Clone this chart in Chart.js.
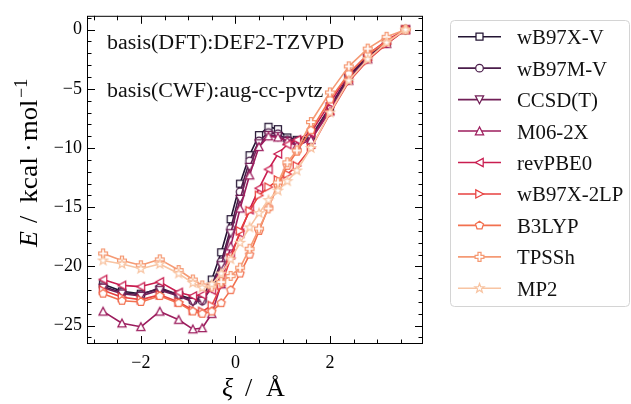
<!DOCTYPE html>
<html>
<head>
<meta charset="utf-8">
<script src="https://cdn.jsdelivr.net/npm/chart.js@4.4.1/dist/chart.umd.min.js"></script>
<style>
html,body{margin:0;padding:0;background:#ffffff;}
#wrap{width:631px;height:404px;position:relative;}
</style>
</head>
<body>
<div id="wrap"><canvas id="c" width="631" height="404"></canvas></div>
<script>
// ---- data ----
const xi = [-2.8,-2.4,-2.0,-1.6,-1.2,-0.9,-0.7,-0.5,-0.3,-0.1,0.1,0.3,0.5,0.7,0.9,1.1,1.3,1.6,2.0,2.4,2.8,3.2,3.6];

const wB97X_V   = [-21.5,-22.1,-22.3,-21.9,-22.4,-22.8,-22.7,-21.1,-18.8,-16.0,-13.0,-10.6,-8.9,-8.2,-8.4,-9.1,-9.3,-9.0,-6.6,-4.0,-2.3,-1.1,0];
const wB97M_V   = [-21.7,-22.2,-22.4,-21.8,-22.4,-22.9,-22.9,-21.6,-19.6,-16.8,-13.7,-11.1,-9.4,-8.7,-8.8,-9.3,-9.4,-9.1,-6.5,-3.9,-2.2,-1.0,0];
const CCSD_T    = [-21.8,-22.3,-22.5,-22.0,-22.5,-23.0,-22.9,-21.8,-19.9,-17.2,-14.3,-11.6,-9.6,-8.9,-9.0,-9.4,-9.6,-9.2,-6.7,-4.1,-2.4,-1.1,0];
const M06_2X    = [-23.8,-24.8,-25.1,-23.8,-24.5,-25.3,-25.2,-24.0,-21.5,-18.3,-15.1,-12.3,-9.9,-9.0,-9.1,-9.4,-9.8,-9.3,-6.9,-4.3,-2.5,-1.2,0];
const revPBE0   = [-21.1,-21.6,-21.7,-21.3,-22.2,-22.5,-22.4,-22.0,-20.8,-19.0,-17.2,-15.2,-13.4,-11.8,-10.5,-9.7,-9.3,-8.7,-6.2,-3.7,-2.1,-0.9,0];
const wB97X_2LP = [-22.0,-22.6,-22.8,-22.4,-23.0,-23.7,-23.8,-23.3,-21.6,-19.3,-17.0,-15.3,-14.0,-13.3,-12.7,-12.2,-11.5,-10.0,-7.1,-4.4,-2.6,-1.2,0];
const B3LYP     = [-22.3,-22.9,-23.0,-22.5,-23.1,-23.8,-24.0,-23.8,-23.1,-22.0,-20.6,-19.0,-17.0,-15.0,-13.2,-11.5,-10.3,-8.5,-5.9,-3.7,-2.1,-1.0,0];
const TPSSh     = [-18.9,-19.5,-19.9,-19.4,-20.3,-21.1,-21.6,-21.7,-21.3,-20.8,-20.1,-18.5,-16.8,-15.1,-12.9,-11.2,-10.2,-7.8,-5.3,-3.1,-1.6,-0.6,0];
const MP2       = [-19.5,-19.8,-20.2,-19.8,-20.6,-21.4,-21.8,-21.5,-20.6,-19.4,-18.0,-16.7,-15.5,-14.4,-13.6,-12.8,-11.9,-10.0,-7.0,-4.3,-2.5,-1.1,0];

const seriesNames = ['wB97X-V','wB97M-V','CCSD(T)','M06-2X','revPBE0','wB97X-2LP','B3LYP','TPSSh','MP2'];
const seriesValues = [wB97X_V,wB97M_V,CCSD_T,M06_2X,revPBE0,wB97X_2LP,B3LYP,TPSSh,MP2];
const seriesMarkers = ['square','circle','tridown','triup','trileft','triright','pentagon','plus','star'];
const seriesColors = ['#231433','#4a1c4a','#711f57','#9c1c5d','#c91d50','#e7403f','#f2704f','#f59a74','#f8c4a2'];

const xTicks = [-2, 0, 2];
const yTicks = [0, -5, -10, -15, -20, -25];
const xMinor = [-3,-2.5,-1.5,-1,-0.5,0.5,1,1.5,2.5,3,3.5];
const yMinor = [1,-1,-2,-3,-4,-6,-7,-8,-9,-11,-12,-13,-14,-16,-17,-18,-19,-21,-22,-23,-24,-26];

const annotations = ['basis(DFT):DEF2-TZVPD', 'basis(CWF):aug-cc-pvtz'];

// ---- marker drawing ----
function markerPath(ctx, type, x, y) {
  const s = 3.7;
  ctx.beginPath();
  const poly = pts => { ctx.moveTo(x+pts[0][0], y+pts[0][1]); for (let i=1;i<pts.length;i++) ctx.lineTo(x+pts[i][0], y+pts[i][1]); ctx.closePath(); };
  switch (type) {
    case 'square': ctx.rect(x-3.5, y-3.5, 7, 7); break;
    case 'circle': ctx.arc(x, y, 3.8, 0, Math.PI*2); break;
    case 'triup': poly([[0,-s-0.4],[-s-0.4,s],[s+0.4,s]]); break;
    case 'tridown': poly([[0,s+0.4],[-s-0.4,-s],[s+0.4,-s]]); break;
    case 'trileft': poly([[-s-0.4,0],[s,-s-0.4],[s,s+0.4]]); break;
    case 'triright': poly([[s+0.4,0],[-s,-s-0.4],[-s,s+0.4]]); break;
    case 'pentagon': {
      const r = 4.2, pts = [];
      for (let i=0;i<5;i++){ const a=-Math.PI/2+i*2*Math.PI/5; pts.push([r*Math.cos(a), r*Math.sin(a)]); }
      poly(pts); break;
    }
    case 'plus': {
      const a = 4.4, w = 1.5;
      poly([[-w,-a],[w,-a],[w,-w],[a,-w],[a,w],[w,w],[w,a],[-w,a],[-w,w],[-a,w],[-a,-w],[-w,-w]]); break;
    }
    case 'star': {
      const R = 4.8, r = 2.0, pts = [];
      for (let i=0;i<10;i++){ const a=-Math.PI/2+i*Math.PI/5; const rr = i%2===0?R:r; pts.push([rr*Math.cos(a), rr*Math.sin(a)]); }
      poly(pts); break;
    }
  }
}
function drawMarker(ctx, type, x, y, color) {
  ctx.save();
  markerPath(ctx, type, x, y);
  ctx.fillStyle = '#ffffff';
  ctx.fill();
  ctx.lineWidth = 1.25;
  ctx.strokeStyle = color;
  ctx.lineJoin = 'miter';
  ctx.stroke();
  ctx.restore();
}
function markerCanvas(type, color) {
  const c = document.createElement('canvas');
  c.width = 16; c.height = 16;
  drawMarker(c.getContext('2d'), type, 8, 8, color);
  return c;
}

// ---- datasets ----
const datasets = seriesNames.map((name, k) => ({
  label: name,
  data: xi.map((x, i) => ({ x: x, y: seriesValues[k][i] })),
  borderColor: seriesColors[k],
  backgroundColor: seriesColors[k],
  borderWidth: 1.6,
  pointStyle: markerCanvas(seriesMarkers[k], seriesColors[k]),
  pointRadius: 4,
  pointHoverRadius: 4,
  tension: 0,
  fill: false,
  order: seriesNames.length - k
}));

const SERIF = '"Liberation Serif", "DejaVu Serif", serif';
const fmt = v => (v < 0 ? '\u2212' + Math.abs(v) : String(v));

const deco = {
  id: 'deco',
  afterDraw(chart) {
    const ctx = chart.ctx;
    const a = chart.chartArea;
    const xs = chart.scales.x, ys = chart.scales.y;
    ctx.save();
    // frame
    ctx.strokeStyle = '#000';
    ctx.lineWidth = 1;
    ctx.strokeRect(a.left + 0.5, a.top + 0.5, a.right - a.left - 1, a.bottom - a.top - 1);
    // ticks (inward on all sides)
    const tick = (x1, y1, x2, y2) => { ctx.beginPath(); ctx.moveTo(x1, y1); ctx.lineTo(x2, y2); ctx.stroke(); };
    const MAJ = 8, MIN = 4.5;
    xTicks.forEach(v => { const p = Math.round(xs.getPixelForValue(v)) + 0.5; tick(p, a.bottom, p, a.bottom - MAJ); tick(p, a.top, p, a.top + MAJ); });
    xMinor.forEach(v => { const p = Math.round(xs.getPixelForValue(v)) + 0.5; if (p < a.left || p > a.right) return; tick(p, a.bottom, p, a.bottom - MIN); tick(p, a.top, p, a.top + MIN); });
    yTicks.forEach(v => { const p = Math.round(ys.getPixelForValue(v)) + 0.5; tick(a.left, p, a.left + MAJ, p); tick(a.right, p, a.right - MAJ, p); });
    yMinor.forEach(v => { const p = Math.round(ys.getPixelForValue(v)) + 0.5; if (p < a.top || p > a.bottom) return; tick(a.left, p, a.left + MIN, p); tick(a.right, p, a.right - MIN, p); });

    // annotations
    ctx.fillStyle = '#111';
    ctx.font = '20px ' + SERIF;
    ctx.textAlign = 'left';
    ctx.textBaseline = 'alphabetic';
    [[107, 49], [107, 97]].forEach((pos, i) => {
      ctx.save();
      ctx.translate(pos[0], pos[1]);
      ctx.scale(1.1, 1);
      ctx.fillText(annotations[i], 0, 0);
      ctx.restore();
    });

    // x axis title: ξ / Å
    ctx.fillStyle = '#000';
    ctx.font = 'italic 26px ' + SERIF;
    ctx.fillText('\u03BE', 222, 396);
    ctx.font = '26px ' + SERIF;
    ctx.fillText('/', 245, 396);
    ctx.fillText('\u00C5', 266, 396);

    // y axis title: E / kcal · mol^-1
    ctx.save();
    ctx.translate(37, 247);
    ctx.rotate(-Math.PI / 2);
    ctx.font = 'italic 26px ' + SERIF;
    ctx.fillText('E', 0, 0);
    ctx.font = '26px ' + SERIF;
    ctx.fillText('/', 24, 0);
    ctx.save(); ctx.translate(44, 0); ctx.scale(1.06, 1); ctx.fillText('kcal', 0, 0); ctx.restore();
    ctx.fillText('\u00B7', 95, 0);
    ctx.save(); ctx.translate(106, 0); ctx.scale(1.02, 1); ctx.fillText('mol', 0, 0); ctx.restore();
    ctx.font = '18px ' + SERIF;
    ctx.fillText('\u22121', 149, -10);
    ctx.restore();

    // legend
    const L = 450.5, T = 20.5, R = 629.5, B = 306.5, rad = 4;
    ctx.beginPath();
    ctx.moveTo(L + rad, T); ctx.lineTo(R - rad, T); ctx.quadraticCurveTo(R, T, R, T + rad);
    ctx.lineTo(R, B - rad); ctx.quadraticCurveTo(R, B, R - rad, B);
    ctx.lineTo(L + rad, B); ctx.quadraticCurveTo(L, B, L, B - rad);
    ctx.lineTo(L, T + rad); ctx.quadraticCurveTo(L, T, L + rad, T);
    ctx.closePath();
    ctx.fillStyle = '#ffffff';
    ctx.fill();
    ctx.strokeStyle = '#d4d4d4';
    ctx.lineWidth = 1;
    ctx.stroke();
    seriesNames.forEach((name, k) => {
      const yc = 36.7 + k * 31.45;
      ctx.strokeStyle = seriesColors[k];
      ctx.lineWidth = 1.6;
      ctx.beginPath(); ctx.moveTo(458, yc); ctx.lineTo(501, yc); ctx.stroke();
      drawMarker(ctx, seriesMarkers[k], 479.5, yc, seriesColors[k]);
      ctx.fillStyle = '#111';
      ctx.font = '20px ' + SERIF;
      ctx.textAlign = 'left';
      ctx.save();
      ctx.translate(517, yc + 7.5);
      ctx.scale(1.04, 1);
      ctx.fillText(name, 0, 0);
      ctx.restore();
    });
    ctx.restore();
  }
};

new Chart(document.getElementById('c'), {
  type: 'line',
  data: { datasets: datasets },
  options: {
    responsive: false,
    animation: false,
    devicePixelRatio: 1,
    layout: { padding: { left: 0, right: 208, top: 11, bottom: 0 } },
    plugins: { legend: { display: false }, tooltip: { enabled: false } },
    elements: { line: { borderCapStyle: 'butt', borderJoinStyle: 'round' } },
    scales: {
      x: {
        type: 'linear',
        min: -3.14, max: 3.97,
        grid: { display: false, drawTicks: false },
        border: { display: false },
        afterBuildTicks: s => { s.ticks = xTicks.map(v => ({ value: v })); },
        afterFit: s => { s.height = 60; },
        ticks: { padding: 8, color: '#000', font: { family: SERIF, size: 18 }, callback: v => fmt(v), maxRotation: 0 }
      },
      y: {
        type: 'linear',
        min: -26.55, max: 1.17,
        grid: { display: false, drawTicks: false },
        border: { display: false },
        afterBuildTicks: s => { s.ticks = yTicks.map(v => ({ value: v })); },
        afterFit: s => { s.width = 87; },
        ticks: { padding: 5, color: '#000', font: { family: SERIF, size: 18 }, callback: v => fmt(v) }
      }
    }
  },
  plugins: [deco]
});
</script>
</body>
</html>
